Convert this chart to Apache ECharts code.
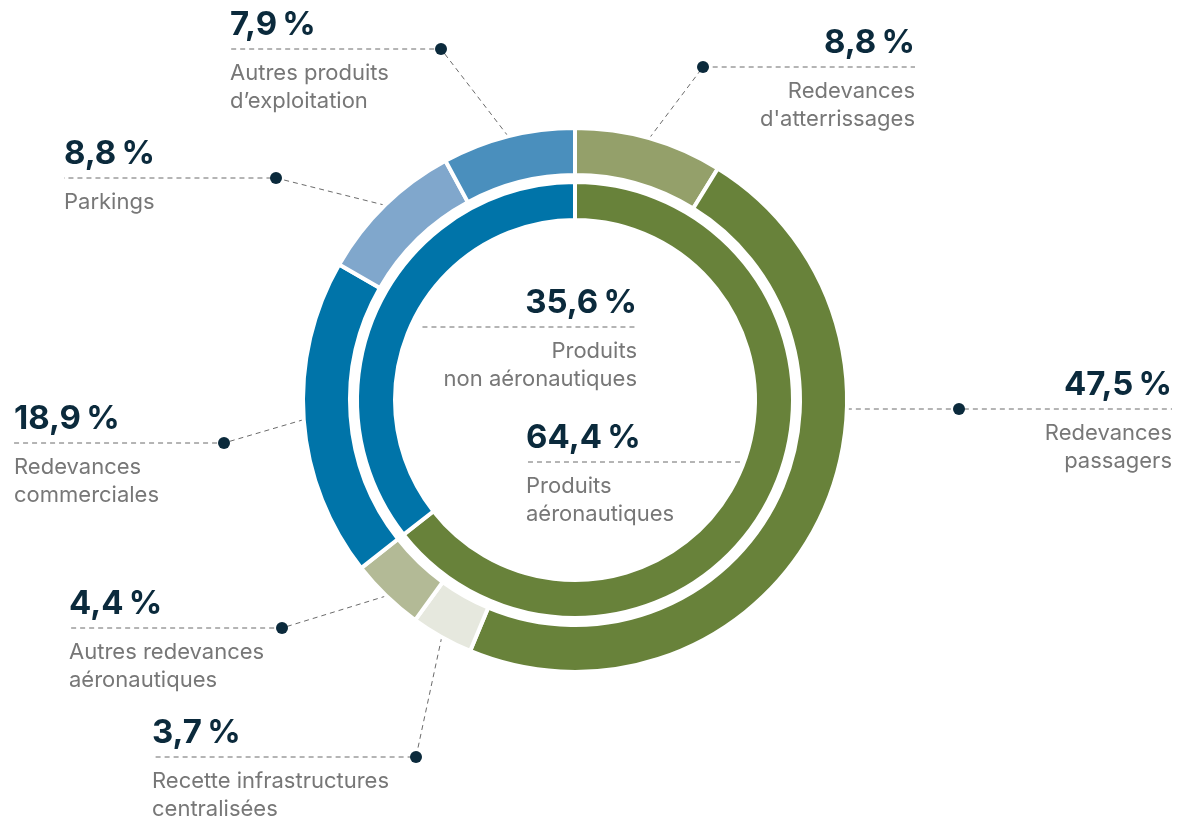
<!DOCTYPE html>
<html>
<head>
<meta charset="utf-8">
<script src="https://cdn.jsdelivr.net/npm/echarts@6/dist/echarts.min.js"></script>
<style>
html, body { margin: 0; padding: 0; background: #fff; }
#chart { width: 1180px; height: 819px; }
</style>
</head>
<body>
<div id="chart"></div>
<script>
var outerNames = ["Redevances\nd'atterrissages", 'Redevances\npassagers', 'Recette infrastructures\ncentralisées',
    'Autres redevances\naéronautiques', 'Redevances\ncommerciales', 'Parkings', 'Autres produits\nd’exploitation'];
var outerValues = [8.8, 47.5, 3.7, 4.4, 18.9, 8.8, 7.9];
var outerColors = ['#94a06a', '#68823a', '#e6e8de', '#b3ba96', '#0074a9', '#80a7cc', '#4a8fbd'];

var innerNames = ['Produits\naéronautiques', 'Produits\nnon aéronautiques'];
var innerValues = [64.4, 35.6];
var innerColors = ['#68823a', '#0074a9'];

// label placement: text edge (tx), dot (dx) and the y of the dashed line
var outerLabelPos = [
    {align: 'right', tx: 915, dx: 703, y: 67},
    {align: 'right', tx: 1172, dx: 959, y: 409, flat: true},
    {align: 'left', tx: 152, dx: 416, y: 757},
    {align: 'left', tx: 69, dx: 282, y: 628},
    {align: 'left', tx: 14, dx: 224, y: 443},
    {align: 'left', tx: 64, dx: 276, y: 178},
    {align: 'left', tx: 230, dx: 441, y: 49}
];
var innerLabelPos = [
    {align: 'left', tx: 526, y: 462},
    {align: 'right', tx: 637, y: 327}
];

var CX = 575, CY = 400;
var R_OUT = [225, 272], R_IN = [180, 218];
var DARK = '#0b2a3c';

function fmtPct(v) {
    return v.toFixed(1).replace('.', ',') + '\u202f%';
}
function labelText(p) {
    return '{p|' + fmtPct(p.value) + '}\n' + p.name.split('\n').map(function (s) {
        return '{n|' + s + '}';
    }).join('\n');
}
function midAngle(values, i) {
    var total = 0, before = 0;
    for (var j = 0; j < values.length; j++) {
        total += values[j];
        if (j < i) before += values[j];
    }
    return (before + values[i] / 2) / total * 2 * Math.PI;
}
function toData(names, values, colors) {
    return values.map(function (v, i) {
        return {name: names[i], value: v, itemStyle: {color: colors[i]}};
    });
}

var richStyle = {
    p: {fontFamily: 'Inter', fontWeight: 700, fontSize: 33, color: DARK, lineHeight: 68},
    n: {fontFamily: 'Inter', fontSize: 22, color: '#777777', lineHeight: 28}
};
var lineStyle = {color: '#6b6b6b', width: 1, type: [5, 4]};

var myChart = echarts.init(document.getElementById('chart'));
var option = {
    backgroundColor: '#fff',
    animation: false,
    series: [
        {
            type: 'pie',
            center: [CX, CY],
            radius: R_OUT,
            startAngle: 90,
            clockwise: true,
            avoidLabelOverlap: false,
            emphasis: {disabled: true},
            itemStyle: {borderColor: '#fff', borderWidth: 4},
            label: {show: true, position: 'outside', formatter: labelText, rich: richStyle},
            labelLine: {show: true, smooth: false, lineStyle: lineStyle},
            labelLayout: function (p) {
                var L = outerLabelPos[p.dataIndex];
                var start;
                if (L.flat) {
                    start = [CX + Math.sqrt(R_OUT[1] * R_OUT[1] - (L.y - CY) * (L.y - CY)), L.y];
                } else {
                    var a = midAngle(outerValues, p.dataIndex);
                    start = [CX + R_OUT[1] * Math.sin(a), CY - R_OUT[1] * Math.cos(a)];
                }
                return {
                    x: L.tx, y: L.y - 58, align: L.align, verticalAlign: 'top',
                    labelLinePoints: [start, [L.dx, L.y], [L.tx, L.y]]
                };
            },
            data: toData(outerNames, outerValues, outerColors)
        },
        {
            type: 'pie',
            center: [CX, CY],
            radius: R_IN,
            startAngle: 90,
            clockwise: true,
            avoidLabelOverlap: false,
            emphasis: {disabled: true},
            itemStyle: {borderColor: '#fff', borderWidth: 4},
            label: {show: true, position: 'outside', formatter: labelText, rich: richStyle},
            labelLine: {show: true, smooth: false, lineStyle: lineStyle},
            labelLayout: function (p) {
                var L = innerLabelPos[p.dataIndex];
                var half = Math.sqrt(R_IN[0] * R_IN[0] - (L.y - CY) * (L.y - CY)) - 4;
                var ex = L.align === 'left' ? CX + half : CX - half + 8;
                return {
                    x: L.tx, y: L.y - 58, align: L.align, verticalAlign: 'top',
                    labelLinePoints: [[ex, L.y], [ex, L.y], [L.tx, L.y]]
                };
            },
            data: toData(innerNames, innerValues, innerColors)
        }
    ],
    graphic: outerLabelPos.map(function (L) {
        return {
            type: 'circle', z: 100,
            shape: {cx: L.dx, cy: L.y, r: 6},
            style: {fill: DARK}
        };
    })
};
myChart.setOption(option);
</script>
</body>
</html>
